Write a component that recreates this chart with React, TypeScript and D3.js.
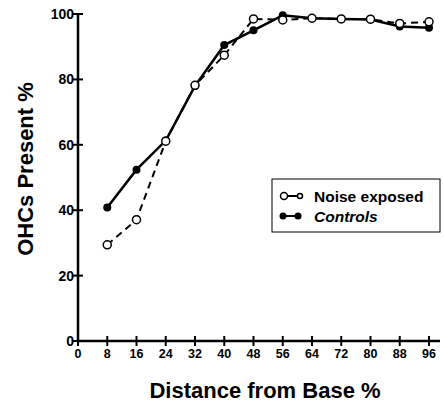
import React from "react";
import * as d3 from "d3";

const positions = [8, 16, 24, 32, 40, 48, 56, 64, 72, 80, 88, 96];
const noiseExposed = [29.4, 37.1, 61.1, 78.2, 87.4, 98.5, 98.2, 98.7, 98.5, 98.4, 97.1, 97.6];
const controls = [40.8, 52.4, 61.3, 78.0, 90.5, 95.0, 99.6, 98.7, 98.5, 98.3, 96.2, 95.8];
const xTicks = [0, 8, 16, 24, 32, 40, 48, 56, 64, 72, 80, 88, 96];
const yTicks = [0, 20, 40, 60, 80, 100];

const W = 444, H = 404;

export default function App() {
  const x = d3.scaleLinear().domain([0, 96]).range([78, 429]);
  const y = d3.scaleLinear().domain([0, 100]).range([341, 14]);
  const line = d3.line<number>().x((_, i) => x(positions[i])).y((d) => y(d));
  const font = "'Liberation Sans', Arial, sans-serif";
  return (
    <svg width={W} height={H} style={{ position: "absolute", left: 0, top: 0, background: "#fff" }}>
      {/* axes */}
      <line x1={x(0)} x2={x(0)} y1={y(0)} y2={y(100)} stroke="#000" strokeWidth={2.5} />
      <line x1={x(0)} x2={440} y1={y(0)} y2={y(0)} stroke="#000" strokeWidth={2.5} />
      {yTicks.map((t) => (
        <g key={"y" + t}>
          <line x1={x(0) - 5} x2={x(0) + 5} y1={y(t)} y2={y(t)} stroke="#000" strokeWidth={2} />
          <text x={x(0) - 4} y={y(t)} dy="0.36em" textAnchor="end" fontFamily={font} fontWeight="bold" fontSize={14}>
            {t}
          </text>
        </g>
      ))}
      {xTicks.map((t) => (
        <g key={"x" + t}>
          <line x1={x(t)} x2={x(t)} y1={y(0) - 5} y2={y(0) + 5} stroke="#000" strokeWidth={2} />
          <text x={x(t)} y={y(0) + 17} textAnchor="middle" fontFamily={font} fontWeight="bold" fontSize={12.5}>
            {t}
          </text>
        </g>
      ))}
      <text x={265} y={398} textAnchor="middle" fontFamily={font} fontWeight="bold" fontSize={22}>
        Distance from Base %
      </text>
      <text transform="translate(33,169) rotate(-90)" textAnchor="middle" fontFamily={font} fontWeight="bold" fontSize={22}>
        OHCs Present %
      </text>
      {/* series */}
      <path d={line(noiseExposed) || ""} fill="none" stroke="#000" strokeWidth={2} strokeDasharray="7,5" />
      <path d={line(controls) || ""} fill="none" stroke="#000" strokeWidth={2.5} />
      {controls.map((v, i) => (
        <circle key={"c" + i} cx={x(positions[i])} cy={y(v)} r={4} fill="#000" />
      ))}
      {noiseExposed.map((v, i) => (
        <circle key={"n" + i} cx={x(positions[i])} cy={y(v)} r={4} fill="#fff" stroke="#000" strokeWidth={1.5} />
      ))}
      {/* legend */}
      <rect x={272} y={179} width={168} height={53} fill="#fff" stroke="#000" strokeWidth={1} />
      <line x1={285} x2={297} y1={196} y2={196} stroke="#000" strokeWidth={2} />
      <circle cx={284} cy={196} r={3.5} fill="#fff" stroke="#000" strokeWidth={1.5} />
      <circle cx={300} cy={196} r={2.5} fill="#fff" stroke="#000" strokeWidth={1.5} />
      <text x={314} y={201.5} fontFamily={font} fontWeight="bold" fontSize={15.5}>Noise exposed</text>
      <line x1={283} x2={297} y1={216} y2={216} stroke="#000" strokeWidth={2} />
      <circle cx={283} cy={216} r={3.5} fill="#000" />
      <circle cx={298} cy={216} r={3.5} fill="#000" />
      <text x={314} y={221.5} fontFamily={font} fontWeight="bold" fontStyle="italic" fontSize={15.5}>Controls</text>
    </svg>
  );
}
